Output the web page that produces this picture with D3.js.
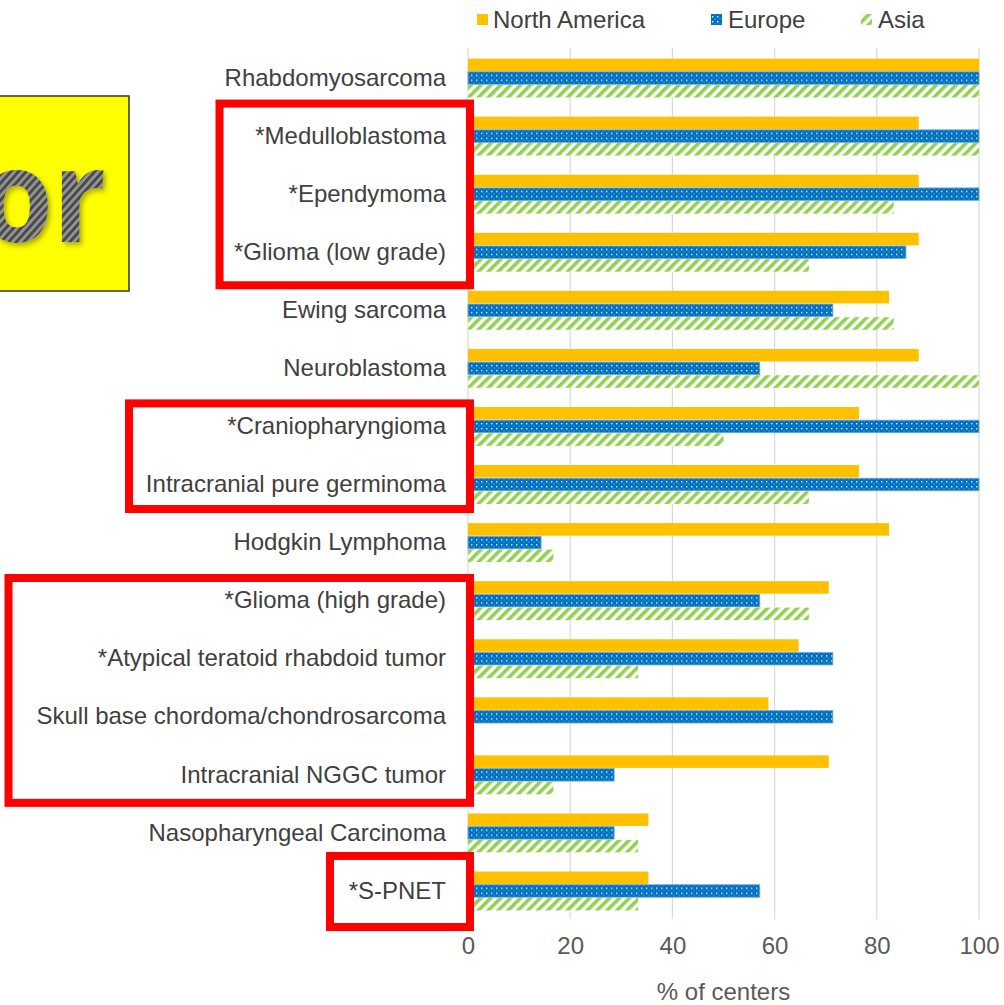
<!DOCTYPE html>
<html>
<head>
<meta charset="utf-8">
<script src="https://cdn.jsdelivr.net/npm/d3@7"></script>
<style>
  html, body { margin: 0; padding: 0; background: #ffffff; }
  svg { display: block; }
</style>
</head>
<body>
<svg id="chart" width="1004" height="1005"></svg>
<script>
// Tumor types, top to bottom
const categories = [
  "Rhabdomyosarcoma",
  "*Medulloblastoma",
  "*Ependymoma",
  "*Glioma (low grade)",
  "Ewing sarcoma",
  "Neuroblastoma",
  "*Craniopharyngioma",
  "Intracranial pure germinoma",
  "Hodgkin Lymphoma",
  "*Glioma (high grade)",
  "*Atypical teratoid rhabdoid tumor",
  "Skull base chordoma/chondrosarcoma",
  "Intracranial NGGC tumor",
  "Nasopharyngeal Carcinoma",
  "*S-PNET"
];

// % of centers per region
const northAmerica = [100, 88.2, 88.2, 88.2, 82.4, 88.2, 76.5, 76.5, 82.4, 70.6, 64.7, 58.8, 70.6, 35.3, 35.3];
const europe       = [100, 100, 100, 85.7, 71.4, 57.1, 100, 100, 14.3, 57.1, 71.4, 71.4, 28.6, 28.6, 57.1];
const asia         = [100, 100, 83.3, 66.7, 83.3, 100, 50, 66.7, 16.7, 66.7, 33.3, 0, 16.7, 33.3, 33.3];

const seriesNames = ["North America", "Europe", "Asia"];
const xTicks = [0, 20, 40, 60, 80, 100];

// Highlight frames around groups of rows (first and last category in each)
const highlightGroups = [
  ["*Medulloblastoma", "*Glioma (low grade)"],
  ["*Craniopharyngioma", "Intracranial pure germinoma"],
  ["*Glioma (high grade)", "Intracranial NGGC tumor"],
  ["*S-PNET", "*S-PNET"]
];

const rows = categories.map((c, i) => ({
  category: c,
  values: [northAmerica[i], europe[i], asia[i]]
}));

const svg = d3.select("#chart");
const font = "'Liberation Sans', Arial, sans-serif";

// ---- patterns ----
const defs = svg.append("defs");

const dots = defs.append("pattern")
  .attr("id", "pat-europe").attr("patternUnits", "userSpaceOnUse")
  .attr("width", 5).attr("height", 5);
dots.append("rect").attr("width", 5).attr("height", 5).attr("fill", "#0070C0");
dots.append("rect").attr("x", 1).attr("y", 1).attr("width", 1.4).attr("height", 1.4).attr("fill", "#ffffff").attr("opacity", 0.9);
dots.append("rect").attr("x", 3.5).attr("y", 3.5).attr("width", 1).attr("height", 1).attr("fill", "#cfe6ff").attr("opacity", 0.6);

const stripes = defs.append("pattern")
  .attr("id", "pat-asia").attr("patternUnits", "userSpaceOnUse")
  .attr("width", 7).attr("height", 7)
  .attr("patternTransform", "rotate(45)");
stripes.append("rect").attr("width", 7).attr("height", 7).attr("fill", "#ffffff");
stripes.append("rect").attr("width", 3.6).attr("height", 7).attr("fill", "#92D050");

const carbon = defs.append("pattern")
  .attr("id", "pat-carbon").attr("patternUnits", "userSpaceOnUse")
  .attr("width", 6).attr("height", 6)
  .attr("patternTransform", "rotate(45)");
carbon.append("rect").attr("width", 6).attr("height", 6).attr("fill", "#939393");
carbon.append("rect").attr("width", 3).attr("height", 6).attr("fill", "#4a4a4a");

const shadow = defs.append("filter").attr("id", "title-shadow")
  .attr("x", "-20%").attr("y", "-20%").attr("width", "140%").attr("height", "140%");
shadow.append("feDropShadow").attr("dx", 3).attr("dy", 3).attr("stdDeviation", 2.5)
  .attr("flood-color", "#6b6b2a").attr("flood-opacity", 0.55);

const fills = ["#FFC000", "url(#pat-europe)", "url(#pat-asia)"];

// ---- scales ----
const x = d3.scaleLinear().domain([0, 100]).range([468, 979]);
const y = d3.scaleBand().domain(categories).range([49, 920])
  .paddingInner(0.33).paddingOuter(0.165);
const ySub = d3.scaleBand().domain(seriesNames).range([0, y.bandwidth()]).paddingInner(0.05);

// ---- gridlines ----
svg.append("g").selectAll("line").data(xTicks).join("line")
  .attr("x1", d => x(d)).attr("x2", d => x(d))
  .attr("y1", 48).attr("y2", 919)
  .attr("stroke", "#d9d9d9").attr("stroke-width", 1.2);

// ---- bars ----
const groups = svg.append("g").selectAll("g").data(rows).join("g")
  .attr("transform", d => `translate(0,${y(d.category)})`);

groups.selectAll("rect").data(d => d.values.map((v, k) => ({ v, k })))
  .join("rect")
  .attr("x", x(0))
  .attr("y", d => ySub(seriesNames[d.k]))
  .attr("height", ySub.bandwidth())
  .attr("width", d => Math.max(0, x(d.v) - x(0)))
  .attr("fill", d => fills[d.k])
  .attr("stroke", d => d.k === 1 && d.v > 0 ? "#6fa8dc" : "none")
  .attr("stroke-width", 0.8);

// ---- category labels ----
const yAxis = d3.axisLeft(y).tickSize(0).tickPadding(0);
const yg = svg.append("g").attr("transform", "translate(446,0)").call(yAxis);
yg.select(".domain").remove();
yg.selectAll("text")
  .attr("font-family", font).attr("font-size", 24).attr("fill", "#404040")
  .attr("dy", "0.32em");

// ---- x axis ----
const xAxis = d3.axisBottom(x).tickValues(xTicks).tickSize(0).tickPadding(0);
const xg = svg.append("g").attr("transform", "translate(0,937)").call(xAxis);
xg.select(".domain").remove();
xg.selectAll("text")
  .attr("font-family", font).attr("font-size", 24).attr("fill", "#595959")
  .attr("dy", "0.71em");

svg.append("text")
  .attr("x", x(50)).attr("y", 1000)
  .attr("text-anchor", "middle")
  .attr("font-family", font).attr("font-size", 24).attr("fill", "#595959")
  .text("% of centers");

// ---- legend ----
const legendX = [477, 711, 861];
const legend = svg.append("g").selectAll("g").data(seriesNames).join("g")
  .attr("transform", (d, i) => `translate(${legendX[i]},0)`);
legend.append("rect")
  .attr("x", 0).attr("y", 14).attr("width", 11).attr("height", 11)
  .attr("fill", (d, i) => fills[i]);
legend.append("text")
  .attr("x", (d, i) => i === 0 ? 16 : 17).attr("y", 28)
  .attr("font-family", font).attr("font-size", 24).attr("fill", "#404040")
  .text(d => d);

// ---- yellow title box ----
svg.append("rect")
  .attr("x", -2).attr("y", 96).attr("width", 131).attr("height", 195)
  .attr("fill", "#FFFF00").attr("stroke", "#333333").attr("stroke-width", 1.5);
svg.append("text")
  .attr("transform", "translate(106,242) scale(0.9,1)")
  .attr("text-anchor", "end")
  .attr("font-family", "'Open Sans', sans-serif").attr("font-weight", 700)
  .attr("font-size", 130)
  .attr("fill", "url(#pat-carbon)")
  .attr("filter", "url(#title-shadow)")
  .text("or");

// ---- red highlight frames ----
// left edge of each frame, and how far its top / bottom sit from the band edges
const frameLeft = [219.5, 129, 8.5, 330];
const frameTopPad = [-3.5, 6, 6.4, -6];
const frameBottomPad = [4, -4.5, -1, 7];
const bandStart = c => y(c) - (y.step() - y.bandwidth()) / 2;
svg.append("g").selectAll("rect").data(highlightGroups).join("rect")
  .attr("x", (d, i) => frameLeft[i])
  .attr("y", (d, i) => bandStart(d[0]) + frameTopPad[i])
  .attr("width", (d, i) => 470 - frameLeft[i])
  .attr("height", (d, i) => (bandStart(d[1]) + y.step() + frameBottomPad[i]) - (bandStart(d[0]) + frameTopPad[i]))
  .attr("fill", "none")
  .attr("stroke", "#FF0000")
  .attr("stroke-width", 8);
</script>
</body>
</html>
